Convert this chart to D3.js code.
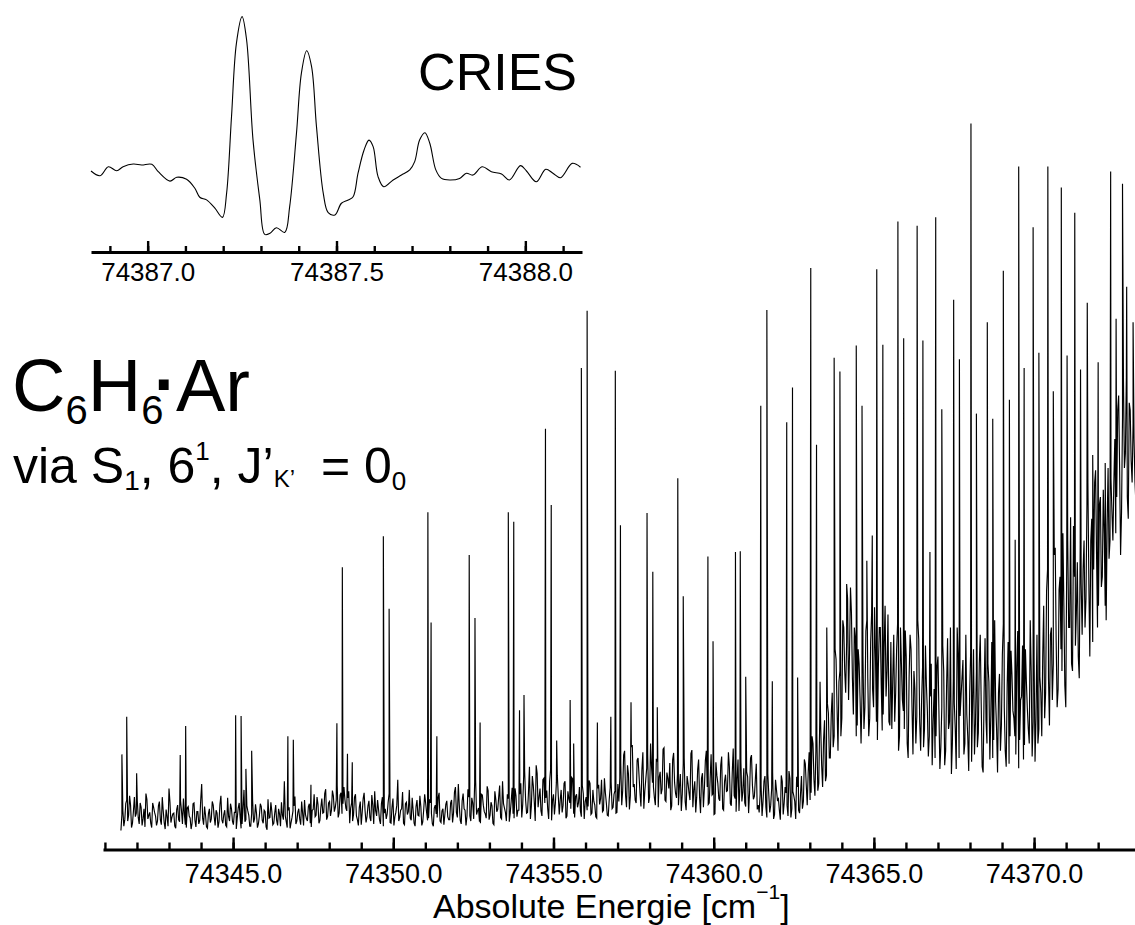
<!DOCTYPE html>
<html>
<head>
<meta charset="utf-8">
<script src="https://cdn.jsdelivr.net/npm/d3@7"></script>
<style>
  html, body { margin: 0; padding: 0; background: #fff; }
  svg { display: block; }
  text { font-family: "Liberation Sans", Arial, Helvetica, sans-serif; fill: #000; white-space: pre; }
</style>
</head>
<body>
<svg id="chart" width="1135" height="925"></svg>
<script>
// ---- Main spectrum: background trace, two interleaved sample sets ----
// baseline: samples at 74341.50 + i*0.06 ; baselineMid: samples half a step later
const baselineStart = 74341.5;
const baselineStep = 0.06;
const baseline = [
  // 74341.5 - 74348.6
  20,48,35,62,41,55,30,66,44,38, 58,27,50,71,36,45,24,52,40,33,
  60,28,47,22,39,78,31,43,26,49, 35,61,29,42,24,53,37,30,58,25,
  46,34,84,28,41,23,50,36,55,27, 44,32,68,30,48,25,39,57,33,45,
  22,51,38,29,76,35,47,26,43,31, 56,24,40,53,30,46,21,37,59,28,
  44,34,50,26,41,88,32,48,23,38, 54,29,45,36,60,27,42,33,57,25,
  49,39,66,30,52,44,71,35,58,40, 75,46,62,38,69,43,80,51,65,
  // 74348.6 - 74351.7
  30,58,42,70,35,52,28,64,47,39, 61,33,55,74,40,49,29,66,44,36,
  59,31,52,27,45,90,38,50,30,57, 42,76,34,48,26,62,40,53,32,70,
  45,37,58,29,51,43,65,33,47,28, 56,39,
  // 74351.7 - 74353.9
  35,62,44,80,38,55,29,71,48,40, 66,33,58,86,42,51,30,69,46,37,
  75,41,54,28,63,49,82,36,57,45, 70,32,60,43,78,39,
  // 74353.9 - 74355.2
  48,85,56,102,44,73,36,95,60,110, 52,78,40,92,65,50,88,34,70,58,96,
  // 74355.2 - 74357.1
  42,76,55,88,40,64,50,91,38,70, 58,47,82,36,66,53,85,44,60,39,
  78,56,90,48,72,41,63,87,52,75, 45,
  // 74357.1 - 74359.0
  60,112,75,130,52,98,68,138,84,58, 120,72,104,50,90,126,66,108,80,55,
  115,94,70,132,62,100,78,48,118,86, 65,
  // 74359.0 - 74361.5
  55,98,70,120,48,85,62,131,76,45, 104,66,92,52,116,80,58,125,71,43,
  96,64,110,50,88,74,128,57,100,68, 46,118,82,60,106,53,94,72,124,63, 90,49,
  // 74361.5 - 74362.7
  45,82,60,95,38,70,55,100,42,76, 64,35,88,58,72,40,92,50,68,36,80,
  // 74362.7 - 74363.7
  44,95,60,112,55,128,72,140,68,152, 85,165,80,172,96,182,
  // 74363.7 - 74364.6
  120,210,150,256,130,240,175,300,210,340, 265,320,180,285,165,250,
  // 74364.6 - 74365.6
  140,260,190,310,150,280,215,328,170,245, 300,158,272,205,318,165,
  // 74365.6 - 74366.8
  160,290,210,305,150,250,185,296,140,232, 270,125,215,178,284,130,246,160,220,122,205,
  // 74366.8 - 74370.2
  110,215,150,260,105,190,240,130,285,170, 98,230,160,300,120,205,255,140,180,102,
  265,195,125,240,155,290,108,210,172,250, 118,280,145,198,100,236,165,305,130,220,
  112,268,185,150,245,106,200,275,138,225, 160,310,122,258,176,140,232,
  // 74370.2 - 74371.5
  150,330,210,380,165,300,250,410,190,352, 270,430,220,395,300,452,240,370,320,260,415,
  // 74371.5 - 74372.4
  290,420,340,500,260,450,380,517,300,470, 356,490,330,440,395,505,
  // 74372.4 - 74373.2
  420,560,480,620,400,590,520,645,450,600, 500,560,470
];
const baselineMid = [
  // 74341.5 - 74348.6
  42,26,57,33,68,24,47,39,61,29, 52,36,25,63,41,30,58,45,27,54,
  35,66,31,49,26,59,38,44,23,55, 32,47,64,28,51,40,22,57,34,46,
  29,62,37,53,25,43,31,60,39,48, 24,56,35,42,27,65,33,50,28,45,
  37,58,23,49,32,54,41,26,61,36, 44,29,57,34,48,25,63,38,46,30,
  55,27,43,59,35,40,24,52,31,47, 67,33,50,28,44,62,36,53,30,48,
  70,41,56,34,64,45,77,39,60,48, 68,52,82,44,72,57,63,47,74,
  // 74348.6 - 74351.7
  51,33,66,40,27,60,45,72,31,54, 38,69,29,47,62,35,57,26,50,43,
  71,30,64,39,55,33,48,73,28,59, 46,37,65,30,53,41,68,27,49,58,
  34,63,44,26,55,38,72,31,50,42, 61,35,
  // 74351.7 - 74353.9
  58,31,73,45,84,34,61,50,27,77, 40,65,36,90,47,32,70,55,43,81,
  35,59,30,74,46,66,38,88,51,33, 64,44,79,37,68,48,
  // 74353.9 - 74355.2
  70,38,96,62,45,108,54,82,33,99, 66,47,90,58,75,36,104,61,42,86,68,
  // 74355.2 - 74357.1
  62,45,85,37,74,58,93,43,67,52, 80,39,71,60,48,89,42,76,55,37,
  83,64,46,92,58,40,79,50,70,44, 84,
  // 74357.1 - 74359.0
  92,55,124,68,110,49,135,80,62,117, 96,53,128,74,106,58,140,86,65,119,
  52,101,77,134,60,92,113,54,127,71, 98,
  // 74359.0 - 74361.5
  80,47,112,60,95,72,126,52,88,66, 118,44,99,78,130,56,91,69,42,114,
  85,61,122,48,97,75,108,54,133,64, 89,47,115,73,58,101,44,120,82,67, 112,55,
  // 74361.5 - 74362.7
  70,40,88,52,98,45,78,36,90,62, 48,96,42,80,55,102,38,74,60,94,48,
  // 74362.7 - 74363.7
  70,50,118,82,100,62,150,90,130,75, 170,110,145,88,195,120,
  // 74363.7 - 74364.6
  180,135,270,190,225,150,310,240,280,200, 355,230,300,150,270,200,
  // 74364.6 - 74365.6
  210,160,295,230,175,320,190,260,145,300, 220,180,330,240,170,280,
  // 74365.6 - 74366.8
  230,170,270,130,300,200,160,260,120,290, 190,240,140,310,170,200,135,275,185,150,250,
  // 74366.8 - 74370.2
  170,120,245,185,135,275,110,220,160,300, 140,195,105,260,178,230,125,290,150,210,
  115,270,168,135,250,195,100,285,140,225, 180,120,310,160,210,130,262,190,108,280,
  150,235,175,125,295,145,205,118,270,188, 140,240,170,115,290,160,210,
  // 74370.2 - 74371.5
  260,175,350,230,290,200,400,280,215,370, 240,330,190,420,300,250,440,275,390,230,360,
  // 74371.5 - 74372.4
  380,300,470,360,420,280,500,400,330,480, 370,430,310,520,420,460,
  // 74372.4 - 74373.2
  500,430,600,520,460,640,540,480,610,530, 580,500,540
];

// ---- Rotational lines: positions (cm^-1) and peak heights ----
const peakPositions = [
  74341.53,74341.68,74341.99,74343.35,74343.52,74345.08,74345.25,74345.40,74345.58,74346.71,
  74346.88,74347.43,74348.24,74348.41,74348.57,74348.72,74349.69,74349.87,74351.08,74351.18,
  74351.36,74352.37,74352.55,74352.71,74353.59,74353.76,74353.94,74354.08,74354.75,74354.93,
  74355.10,74355.52,74355.63,74355.87,74356.05,74356.37,74356.79,74356.93,74357.09,74357.42,
  74357.92,74358.10,74358.24,74358.88,74359.05,74359.82,74359.98,74360.68,74360.83,74361.00,
  74361.47,74361.66,74361.83,74362.28,74362.46,74362.62,74363.03,74363.21,74363.32,74363.53,
  74363.76,74363.94,74364.15,74364.45,74364.63,74364.78,74364.95,74365.09,74365.28,74365.75,
  74365.93,74366.35,74366.53,74366.75,74366.93,74367.12,74367.49,74367.67,74368.03,74368.20,
  74368.54,74368.71,74369.04,74369.23,74369.41,74369.52,74369.69,74369.97,74370.15,74370.43,
  74370.60,74370.85,74371.03,74371.27,74371.45,74371.66,74371.83,74372.00,74372.22,74372.39,
  74372.56,74372.76,74372.89,74373.09
];
const peakHeights = [
  125,177,99,124,164,179,178,105,130,150,
  145,83,168,383,126,114,426,326,459,307,
  150,400,313,169,459,446,186,207,574,469,
  144,200,140,658,737,169,177,654,441,197,
  458,377,190,506,343,398,281,404,405,232,
  606,738,226,583,631,231,796,552,225,300,
  672,653,360,689,606,392,427,794,690,860,
  699,854,696,404,866,601,752,670,995,595,
  721,588,792,614,421,936,658,852,679,936,
  626,907,675,872,656,748,538,666,527,929,
  726,912,770,721
];

// ---- Inset (CRIES scan) ----
const insetPositions = [
  74386.850,74386.874,74386.896,74386.918,74386.935,74386.962,74386.984,74387.011,74387.028,74387.059,
  74387.077,74387.103,74387.125,74387.138,74387.156,74387.178,74387.198,74387.209,74387.222,74387.235,
  74387.250,74387.262,74387.279,74387.297,74387.310,74387.324,74387.341,74387.363,74387.376,74387.394,
  74387.407,74387.421,74387.434,74387.447,74387.465,74387.478,74387.496,74387.513,74387.531,74387.544,
  74387.557,74387.573,74387.586,74387.597,74387.610,74387.625,74387.650,74387.672,74387.694,74387.707,
  74387.720,74387.734,74387.747,74387.763,74387.778,74387.800,74387.826,74387.844,74387.861,74387.886,
  74387.910,74387.937,74387.958,74387.987,74388.003,74388.029,74388.054,74388.073,74388.093,74388.124,
  74388.146
];
const insetValues = [
  30.8,28.7,32.7,30.9,32.7,33.9,33.5,33.8,30.5,26.3,
  28.0,27.1,23.1,19.1,17.9,14.2,10.1,20.8,55.0,87.8,
  99.7,89.3,44.6,17.9,2.5,3.0,5.5,3.4,14.9,47.6,
  74.4,84.5,77.4,50.6,20.8,12.2,11.2,16.4,17.9,19.3,
  29.8,40.2,44.6,41.7,28.3,23.8,26.8,29.0,31.3,35.0,
  44.6,47.9,43.2,31.3,27.5,26.8,27.5,29.8,29.0,32.7,
  30.5,29.5,26.8,33.2,30.8,26.0,31.6,29.8,27.8,34.2,
  32.5
];

// ---- Axis ticks ----
const mainMajorTicks = [74345, 74350, 74355, 74360, 74365, 74370];
const mainMinorTicks = d3.range(74341, 74373);
const insetMajorTicks = [74387.0, 74387.5, 74388.0];
const insetMinorTicks = d3.range(0, 13).map(i => +(74386.9 + i * 0.1).toFixed(1));

const svg = d3.select("#chart");

// ================= main spectrum =================
const x = d3.scaleLinear().domain([74340.94, 74373.15]).range([103, 1135]);
const y = d3.scaleLinear().domain([0, 1000]).range([845, 120]);
const axisY = 849.5;

const spectrum = baseline.map((v, i) => [baselineStart + i * baselineStep, v])
  .concat(baselineMid.map((v, i) => [baselineStart + (i + 0.5) * baselineStep, v]))
  .concat(peakPositions.map((p, i) => [p, peakHeights[i]]))
  .sort((a, b) => a[0] - b[0])
  .filter(d => d[0] <= 74373.2);

svg.append("defs").append("clipPath").attr("id", "plotClip")
  .append("rect").attr("x", 100).attr("y", 100).attr("width", 1035).attr("height", 745);

svg.append("path")
  .datum(spectrum)
  .attr("clip-path", "url(#plotClip)")
  .attr("fill", "none")
  .attr("stroke", "#000")
  .attr("stroke-width", 1.15)
  .attr("stroke-linejoin", "miter")
  .attr("d", d3.line().x(d => x(d[0])).y(d => y(d[1])));

function styleAxis(g, fontSize) {
  g.select(".domain").attr("stroke", "#000").attr("stroke-width", 3);
  g.selectAll(".tick line").attr("stroke", "#000").attr("stroke-width", 2.4);
  g.attr("font-family", null).attr("font-size", null);
  g.selectAll(".tick text").attr("font-size", fontSize).attr("fill", "#000");
}

const gMinor = svg.append("g").attr("transform", `translate(0,${axisY})`)
  .call(d3.axisBottom(x).tickValues(mainMinorTicks).tickSize(-7).tickSizeOuter(0).tickFormat(""));
styleAxis(gMinor, 27);

const gMajor = svg.append("g").attr("transform", `translate(0,${axisY})`)
  .call(d3.axisBottom(x).tickValues(mainMajorTicks).tickSize(-12).tickSizeOuter(0)
    .tickPadding(14).tickFormat(d3.format(".1f")));
styleAxis(gMajor, 27);
gMajor.select(".domain").remove();

// axis title
const xTitle = svg.append("text").attr("x", 433).attr("y", 918).attr("font-size", 34);
xTitle.append("tspan").text("Absolute Energie [cm");
xTitle.append("tspan").attr("font-size", 21).attr("dy", -19).text("\u22121");
xTitle.append("tspan").attr("dy", 19).text("]");

// ================= inset =================
const xi = d3.scaleLinear().domain([74386.85, 74388.15]).range([91, 582]);
const yi = d3.scaleLinear().domain([0, 100]).range([240, 16]);
const insetAxisY = 252;

svg.append("path")
  .datum(insetPositions.map((p, i) => [p, insetValues[i]]))
  .attr("fill", "none")
  .attr("stroke", "#000")
  .attr("stroke-width", 1.1)
  .attr("d", d3.line().x(d => xi(d[0])).y(d => yi(d[1])).curve(d3.curveCatmullRom.alpha(0.5)));

const giMinor = svg.append("g").attr("transform", `translate(0,${insetAxisY})`)
  .call(d3.axisBottom(xi).tickValues(insetMinorTicks).tickSize(-6).tickSizeOuter(0).tickFormat(""));
styleAxis(giMinor, 26);

const giMajor = svg.append("g").attr("transform", `translate(0,${insetAxisY})`)
  .call(d3.axisBottom(xi).tickValues(insetMajorTicks).tickSize(-11).tickSizeOuter(0)
    .tickPadding(11).tickFormat(d3.format(".1f")));
styleAxis(giMajor, 26);
giMajor.select(".domain").remove();

svg.append("text").attr("x", 577).attr("y", 90).attr("text-anchor", "end")
  .attr("font-size", 52).text("CRIES");

// ================= labels =================
const title = svg.append("text").attr("font-size", 74);
title.append("tspan").attr("x", 12).attr("y", 411).text("C");
title.append("tspan").attr("y", 424).attr("font-size", 40).text("6");
title.append("tspan").attr("y", 411).text("H");
title.append("tspan").attr("y", 424).attr("font-size", 40).text("6");
title.append("tspan").attr("x", 154).attr("y", 408).attr("font-size", 70).attr("font-weight", "bold").text("\u00B7");
title.append("tspan").attr("x", 176).attr("y", 411).text("Ar");

const sub = svg.append("text").attr("font-size", 50);
sub.append("tspan").attr("x", 13).attr("y", 483).text("via S");
sub.append("tspan").attr("y", 490).attr("font-size", 28).text("1");
sub.append("tspan").attr("y", 483).text(", 6");
sub.append("tspan").attr("y", 460).attr("font-size", 26).text("1");
sub.append("tspan").attr("y", 483).text(", J\u2019");
sub.append("tspan").attr("y", 487).attr("font-size", 24).text("K\u2019");
sub.append("tspan").attr("y", 483).attr("dx", 12).text(" = 0");
sub.append("tspan").attr("y", 490).attr("font-size", 26).text("0");
</script>
</body>
</html>
